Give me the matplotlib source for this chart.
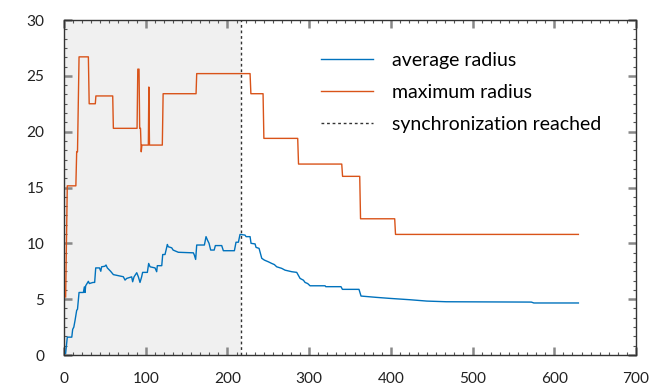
import matplotlib
matplotlib.use("Agg")
import matplotlib.pyplot as plt
from matplotlib.ticker import MultipleLocator

plt.rcParams['font.family'] = ['Lato', 'DejaVu Sans']

# maximum radius (step vertices)
max_x = [2, 4, 14.5, 15.5, 16.5, 18.4, 29.8, 30.8, 38.3, 39, 59.6, 60.4, 89.4, 90.3,
         91.8, 92.6, 93.6, 94.5, 95.3, 103.2, 103.8, 104.6, 120.3, 121.3, 161.6, 162.4,
         227.7, 228.7, 243.6, 244.6, 286, 287, 339.9, 340.9, 361.9, 362.9, 404.7, 405.7, 629.5]
max_y = [5.2, 15.15, 15.15, 18.2, 18.2, 26.7, 26.7, 22.5, 22.5, 23.2, 23.2, 20.3, 20.3, 25.6,
         25.6, 20.3, 20.3, 18.2, 18.8, 18.8, 24.0, 18.8, 18.8, 23.4, 23.4, 25.2,
         25.2, 23.4, 23.4, 19.4, 19.4, 17.1, 17.1, 16.0, 16.0, 12.2, 12.2, 10.8, 10.8]

# average radius
avg_x = [2, 4, 9.5, 10.6, 12, 13.5, 15.5, 16.5, 18.4, 23.7, 24.9, 25.7, 26.5, 29.8, 31,
         35.5, 37.5, 38.8, 43.4, 45, 46, 50, 51.4, 53, 57, 60.4, 72.6, 74.7, 76.7, 82.8,
         84, 85.7, 89, 91, 93, 95, 96.2, 102, 103.6, 105.3, 111.4, 113.4, 114.2, 119.6,
         120.8, 123.6, 126.5, 127.5, 131.8, 133.5, 139.9, 158.3, 159.5, 161.1, 162.4, 171.8,
         173.8, 175.5, 177.5, 179.5, 183.8, 185.2, 193, 195, 208.5, 210.5, 213.4, 215.4,
         221.5, 222.8, 227.7, 228.9, 233.8, 235, 238.7, 242, 245.2, 250, 254.2, 257.4,
         260.3, 266.4, 270.5, 278.7, 284.8, 288.9, 293, 295, 298.2, 301.1, 319.5, 320.3,
         339, 340.7, 361, 363.5, 382.7, 399, 423.5, 444, 468, 572, 575, 629.5]
avg_y = [0.15, 1.6, 1.6, 2.3, 2.5, 3.1, 4.0, 4.1, 5.6, 5.6, 6.1, 5.6, 6.2, 6.6, 6.4,
         6.5, 6.5, 7.8, 7.8, 7.5, 7.9, 7.95, 8.06, 7.8, 7.5, 7.2, 7.01, 6.71, 6.86, 7.0,
         6.56, 7.0, 7.37, 7.0, 6.5, 7.0, 7.4, 7.4, 8.2, 7.9, 7.8, 7.46, 8.0, 8.0,
         9.0, 9.0, 9.9, 9.7, 9.6, 9.4, 9.2, 9.15, 8.95, 8.56, 9.85, 9.85,
         10.6, 10.3, 10.0, 9.4, 9.4, 9.8, 9.8, 9.34, 9.34, 10.1, 10.1, 10.8,
         10.74, 10.6, 10.6, 10.0, 9.95, 9.64, 9.55, 8.66, 8.5, 8.35, 8.2, 8.1,
         7.9, 7.76, 7.6, 7.46, 7.4, 6.86, 6.7, 6.5, 6.4, 6.2, 6.2, 6.12,
         6.12, 5.88, 5.88, 5.28, 5.16, 5.07, 4.95, 4.83, 4.77, 4.74, 4.66, 4.66]

sync_x = 216
x_ticks = [0, 100, 200, 300, 400, 500, 600, 700]
y_ticks = [0, 5, 10, 15, 20, 25, 30]
labels = ['average radius', 'maximum radius', 'synchronization reached']

DPI = 100
W, H = 662, 390
fig = plt.figure(figsize=(W / DPI, H / DPI), dpi=DPI)
ax = fig.add_axes([0.0967, 0.0897, 0.864, 0.859])

ax.axvspan(0, sync_x, color='#f0f0f0', lw=0, zorder=0)
ax.plot(avg_x, avg_y, color='#0072BD', lw=1.0, label=labels[0], zorder=3)
ax.plot(max_x, max_y, color='#D95319', lw=1.0, label=labels[1], zorder=3)
ax.axvline(sync_x, color='#333333', lw=1.0, ls=(0, (2, 2)), label=labels[2], zorder=2)

ax.set_xlim(0, 700)
ax.set_ylim(0, 30)
ax.set_xticks(x_ticks)
ax.set_yticks(y_ticks)
ax.xaxis.set_minor_locator(MultipleLocator(100 / 9))
ax.yaxis.set_minor_locator(MultipleLocator(5 / 6))
ax.tick_params(which='minor', direction='in', length=2, width=0.8, color='#555555',
               top=True, right=True)
for s in ax.spines.values():
    s.set_color('#333333')
    s.set_linewidth(1.0)

# fit text sizes to the reference widths
renderer = fig.canvas.get_renderer()
probe = fig.text(0, 0, '100', fontsize=10)
w = probe.get_window_extent(renderer).width
tick_fs = 10 * 26.7 / w
probe.set_text('synchronization reached')
w = probe.get_window_extent(renderer).width
leg_fs = 10 * 209.0 / w
probe.remove()

ax.tick_params(which='major', direction='in', length=6, width=1.8, color='#888888',
               top=True, right=True, labelsize=tick_fs, labelcolor='#222222')
ax.tick_params(axis='x', which='major', pad=12)
ax.tick_params(axis='y', which='major', pad=14)

fs_px = leg_fs * DPI / 72.0
ax_h_px = 0.859 * H
top_px = 61.5 - fs_px / 2          # from figure top
anchor_y = 1 - (top_px - 20) / ax_h_px
ax.legend(loc='upper left', bbox_to_anchor=(0.449, anchor_y), frameon=False,
          fontsize=leg_fs, handlelength=52 / fs_px, handletextpad=19 / fs_px,
          labelspacing=34.5 / fs_px - 1, borderpad=0, borderaxespad=0)

fig.savefig('out.png', dpi=DPI)
